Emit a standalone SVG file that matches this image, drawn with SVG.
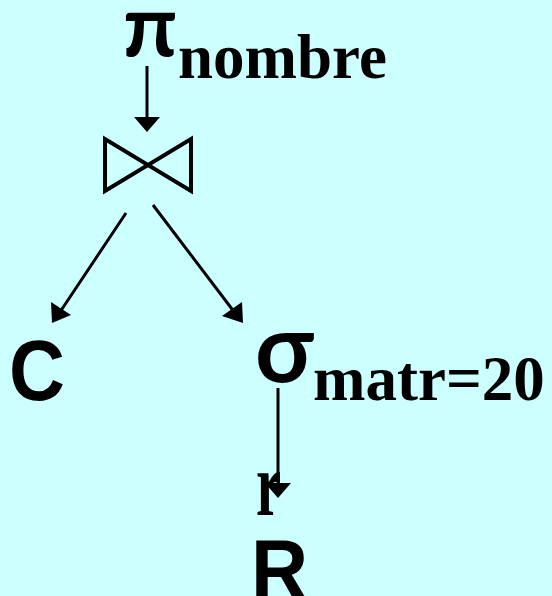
<svg xmlns="http://www.w3.org/2000/svg" width="552" height="596" viewBox="0 0 552 596">
<style>
.greek{font-family:Lato,"DejaVu Serif",serif;font-weight:bold;fill:#000}
.sub{font-family:"Liberation Serif","DejaVu Serif",serif;font-weight:bold;font-size:63px;fill:#000}
.rel{font-family:"Liberation Sans",Arial,sans-serif;font-weight:bold;font-size:86px;fill:#000}
.edge{stroke:#000;stroke-width:3;fill:none}
</style>
<rect width="552" height="596" fill="#CCFFFF"/>
<g id="connectors">
<line class="edge" x1="147" y1="66" x2="147" y2="118"/>
<polygon points="134,117 160,117 147,132" fill="#000"/>
<line class="edge" x1="126" y1="213" x2="60" y2="312"/>
<polygon points="52,323 51,302 71,315" fill="#000"/>
<line class="edge" x1="153" y1="205" x2="235" y2="313"/>
<polygon points="243,323 222,316 242,302" fill="#000"/>
<line class="edge" x1="278" y1="388" x2="278" y2="484"/>
<polygon points="265,483 291,483 278,498" fill="#000"/>
</g>
<g id="node-projection">
<text class="greek" x="123" y="56" font-size="86">π</text>
<text class="sub" x="178" y="78">nombre</text>
</g>
<g id="node-join">
<path d="M105,139 L105,191 L191,139 L191,191 Z" fill="none" stroke="#000" stroke-width="4" stroke-linejoin="miter"/>
</g>
<g id="node-C">
<text class="rel" transform="translate(9,400) scale(0.9,1)">C</text>
</g>
<g id="node-selection">
<text class="greek" x="255" y="382" font-size="95">σ</text>
<text class="sub" x="313" y="400">matr=20</text>
</g>
<g id="node-r">
<text class="sub" transform="translate(256,515) scale(0.9,1.45)">r</text>
</g>
<g id="node-R">
<text class="rel" transform="translate(251,599) scale(0.92,1)">R</text>
</g>
</svg>
